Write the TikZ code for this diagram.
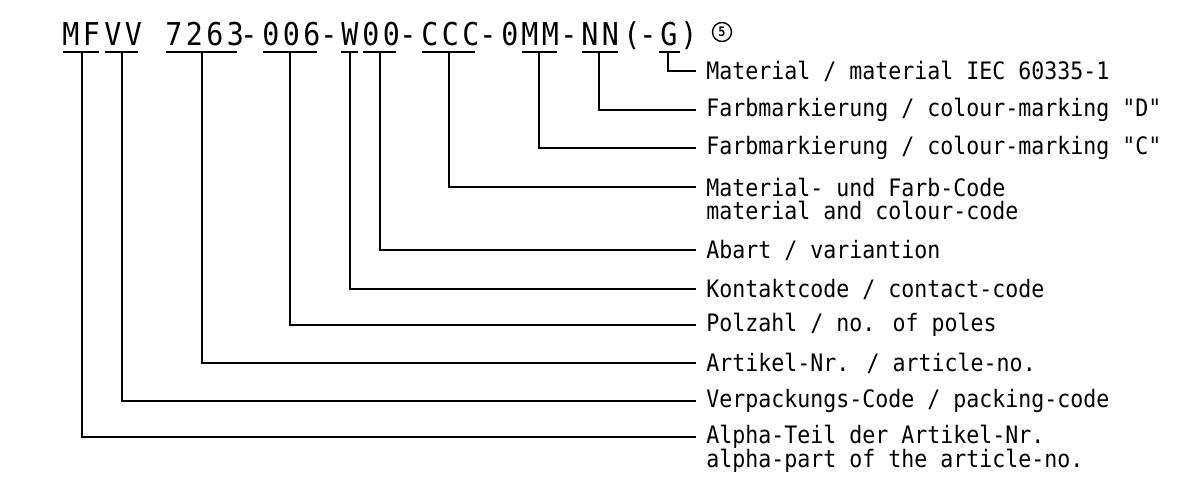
\documentclass[tikz,border=0pt]{standalone}
\usepackage{fontspec}
\newfontfamily\isofont[FakeStretch=0.9]{DejaVu Sans Mono}
\newfontfamily\isocode[FakeStretch=0.9,LetterSpace=11]{DejaVu Sans Mono}
\usetikzlibrary{positioning}

\tikzset{
  code/.style={anchor=base west, inner sep=0pt, font=\isocode\fontsize{17.9}{20}\selectfont},
  sym/.style={anchor=base, inner sep=0pt, font=\isofont\fontsize{17.9}{20}\selectfont},
  lbl/.style={anchor=west, inner xsep=0.2cm, inner ysep=0pt, font=\isofont\fontsize{13.66}{16}\selectfont},
  lead/.style={line width=0.8pt},
}

\begin{document}
\begin{tikzpicture}[x=0.02cm, y=-0.02cm]
    \useasboundingbox (0,0) rectangle (1197,491);

    % Order code
    \node[code] (mf)   at (62,45)  {MF};
    \node[code] (vv)   at (104,45) {VV};
    \node[code] (art)  at (165,45) {7263};
    \node[sym]  (d1)   at (249,45) {-};
    \node[code] (pol)  at (262,45) {006};
    \node[sym]  (d2)   at (329,45) {-};
    \node[sym]  (kon)  at (350,45) {W};
    \node[code] (aba)  at (362,45) {00};
    \node[sym]  (d3)   at (408,45) {-};
    \node[code] (ccc)  at (421,45) {CCC};
    \node[sym]  (d4)   at (488,45) {-};
    \node[sym]  (zero) at (510,45) {0};
    \node[code] (mm)   at (521,45) {MM};
    \node[sym]  (d5)   at (569,45) {-};
    \node[code] (nn)   at (581,45) {NN};
    \node[sym]  (par)  at (632,45) {(};
    \node[sym]  (d6)   at (648,45) {-};
    \node[sym]  (g)    at (669,45) {G};
    \node[sym]  (cl)   at (689,45) {)};
    \node[draw, circle, lead, inner sep=0pt, minimum size=0.38cm,
          font=\isofont\bfseries\fontsize{7.5}{8}\selectfont] (five) at (722,32) {5};

    % Underlines
    \draw[lead] (63,52) -- (99,52);
    \draw[lead] (105,52) -- (138,52);
    \draw[lead] (166,52) -- (237,52);
    \draw[lead] (263,52) -- (317,52);
    \draw[lead] (341,52) -- (358,52);
    \draw[lead] (363,52) -- (396,52);
    \draw[lead] (422,52) -- (475,52);
    \draw[lead] (522,52) -- (557,52);
    \draw[lead] (582,52) -- (618,52);
    \draw[lead] (659,52) -- (680,52);

    \coordinate (u-mf)  at (82,52);
    \coordinate (u-vv)  at (122,52);
    \coordinate (u-art) at (202,52);
    \coordinate (u-pol) at (290,52);
    \coordinate (u-kon) at (350,52);
    \coordinate (u-aba) at (380,52);
    \coordinate (u-ccc) at (449,52);
    \coordinate (u-mm)  at (539,52);
    \coordinate (u-nn)  at (599,52);
    \coordinate (u-g)   at (668,52);

    % Labels
    \node[lbl] (mat)    at (696,71)  {Material / material IEC 60335-1};
    \node[lbl] (farbd)  at (696,110) {Farbmarkierung / colour-marking "D"};
    \node[lbl] (farbc)  at (696,148) {Farbmarkierung / colour-marking "C"};
    \node[lbl] (mfc)    at (696,187) {Material- und Farb-Code};
    \node[lbl] (mfc2)   at (696,210) {material and colour-code};
    \node[lbl] (abart)  at (696,250) {Abart / variantion};
    \node[lbl] (kontakt) at (696,289) {Kontaktcode / contact-code};
    \node[lbl] (polzahl) at (696,325) {Polzahl / no. of poles};
    \node[lbl] (artikel) at (696,363) {Artikel-Nr. / article-no.};
    \node[lbl] (verpack) at (696,401) {Verpackungs-Code / packing-code};
    \node[lbl] (alpha)  at (696,437) {Alpha-Teil der Artikel-Nr.};
    \node[lbl] (alpha2) at (696,461) {alpha-part of the article-no.};

    % Leaders
    \draw[lead] (u-g)   |- (mat.west);
    \draw[lead] (u-nn)  |- (farbd.west);
    \draw[lead] (u-mm)  |- (farbc.west);
    \draw[lead] (u-ccc) |- (mfc.west);
    \draw[lead] (u-aba) |- (abart.west);
    \draw[lead] (u-kon) |- (kontakt.west);
    \draw[lead] (u-pol) |- (polzahl.west);
    \draw[lead] (u-art) |- (artikel.west);
    \draw[lead] (u-vv)  |- (verpack.west);
    \draw[lead] (u-mf)  |- (alpha.west);

\end{tikzpicture}
\end{document}
